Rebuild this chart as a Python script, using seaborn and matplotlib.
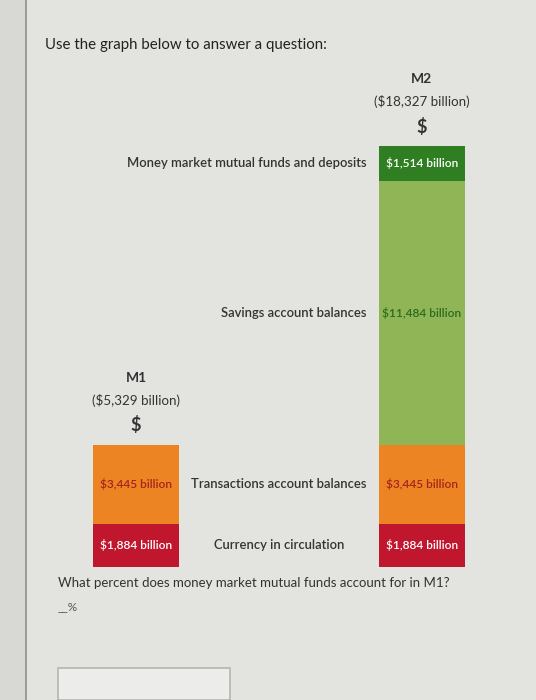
import matplotlib
matplotlib.use("Agg")
import matplotlib.pyplot as plt
import pandas as pd
import seaborn as sns
from matplotlib.patches import Rectangle
from matplotlib.lines import Line2D

# ---- data ----
aggregates = ["M1", "M2"]
aggregate_totals = [5329, 18327]
components = ["Currency in circulation", "Transactions account balances",
              "Savings account balances", "Money market mutual funds and deposits"]
m1_values = [1884, 3445]          # M1 = currency + transactions
m2_values = [1884, 3445, 11484, 1514]
seg_colors = ["#c0172f", "#ec8424", "#8fb556", "#2f7f22"]
seg_text_colors = ["white", "#a5231c", "#2c6b1c", "white"]

rows = []
for agg, vals in zip(aggregates, [m1_values, m2_values]):
    cum = 0
    for comp, v in zip(components, vals):
        rows.append(dict(aggregate=agg, component=comp, value=v,
                         bottom=cum, top=cum + v))
        cum += v
df = pd.DataFrame(rows)

sns.set_theme(style="white")
plt.rcParams["font.family"] = ["Lato", "DejaVu Sans"]

W, H = 536, 700
fig = plt.figure(figsize=(W / 100, H / 100), dpi=100)
bg = "#e3e3e0"
fig.patch.set_facecolor(bg)

# left page edge
fig.patches.append(Rectangle((0, 0), 26 / W, 1, transform=fig.transFigure,
                             facecolor="#d8d8d5", edgecolor="none", zorder=0))
fig.lines.append(Line2D([26 / W, 26 / W], [0, 1], transform=fig.transFigure,
                        color="#8e8e8c", lw=1.2))

# axes placed so the bars sit where they are in the reference
y_bottom_px, y_top_px = 567, 146
x_m1_px, x_m2_px = 136, 422
unit = x_m2_px - x_m1_px
ax = fig.add_axes([0, 1 - y_bottom_px / H, 1, (y_bottom_px - y_top_px) / H])
ax.set_facecolor("none")

bar_w = 86 / unit
# draw cumulative stacks, largest first
for i in reversed(range(len(components))):
    sub = df[df["component"] == components[i]]
    sns.barplot(data=sub, x="aggregate", y="top", order=aggregates,
                color=seg_colors[i], saturation=1, width=bar_w,
                errorbar=None, ax=ax, linewidth=0)

ax.set_xlim(-x_m1_px / unit, (W - x_m1_px) / unit)
ax.set_ylim(0, aggregate_totals[1])
ax.axis("off")

# value labels inside segments
for _, r in df.iterrows():
    xi = aggregates.index(r["aggregate"])
    ci = components.index(r["component"])
    ax.text(xi, (r["bottom"] + r["top"]) / 2, f"${r['value']:,} billion",
            ha="center", va="center", fontsize=8.6, color=seg_text_colors[ci],
            fontweight="semibold")

# component names
m2 = df[df["aggregate"] == "M2"].set_index("component")
for comp in components[:2]:
    r = m2.loc[comp]
    ax.text(0.5, (r["bottom"] + r["top"]) / 2, comp, ha="center", va="center",
            fontsize=9.4, color="#333333", fontweight="semibold")
for comp in components[2:]:
    r = m2.loc[comp]
    ax.annotate(comp, xy=(1 - bar_w / 2, (r["bottom"] + r["top"]) / 2),
                xytext=(-9, 0), textcoords="offset points",
                ha="right", va="center", fontsize=9.4, color="#333333",
                fontweight="semibold")

# aggregate headers
for xi, (agg, tot) in enumerate(zip(aggregates, aggregate_totals)):
    ax.annotate("$", xy=(xi, tot), xytext=(0, 14), textcoords="offset points",
                ha="center", va="center", fontsize=13, fontweight="bold",
                color="#333333")
    ax.annotate(f"(${tot:,} billion)", xy=(xi, tot), xytext=(0, 32),
                textcoords="offset points", ha="center", va="center",
                fontsize=9.6, color="#333333")
    ax.annotate(agg, xy=(xi, tot), xytext=(0, 48), textcoords="offset points",
                ha="center", va="center", fontsize=10, fontweight="bold",
                color="#333333")

# page texts
fig.text(45 / W, 1 - 45 / H, "Use the graph below to answer a question:",
         ha="left", va="center", fontsize=10.8, color="#222222")
fig.text(58 / W, 1 - 583 / H,
         "What percent does money market mutual funds account for in M1?",
         ha="left", va="center", fontsize=9.5, color="#333333")
fig.text(58 / W, 1 - 607 / H, "__%", ha="left", va="center", fontsize=8.5,
         color="#555555")
fig.patches.append(Rectangle((58 / W, 0), 172 / W, 32 / H,
                             transform=fig.transFigure, facecolor="#ececea",
                             edgecolor="#b5b5b2", lw=1.2, zorder=1))

fig.savefig("out.png", dpi=100, facecolor=bg)
